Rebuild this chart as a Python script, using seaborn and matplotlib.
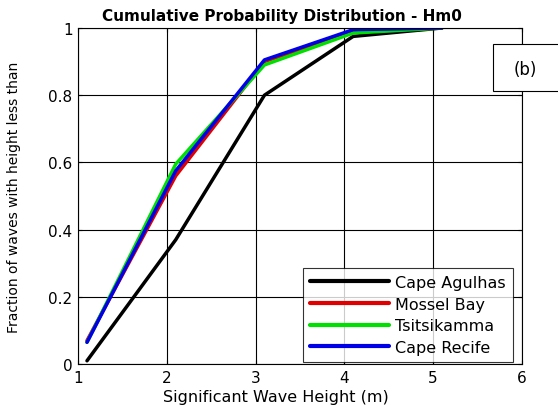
import matplotlib
matplotlib.use('Agg')
import matplotlib.pyplot as plt
from matplotlib.patches import Rectangle
import seaborn as sns
import pandas as pd

# wave height bins (m) and cumulative fractions per site
heights = [1.1, 2.1, 3.1, 4.1, 5.1]
cape_agulhas = [0.01, 0.37, 0.80, 0.975, 1.0]
mossel_bay = [0.07, 0.56, 0.90, 0.99, 1.0]
tsitsikamma = [0.065, 0.595, 0.89, 0.985, 1.0]
cape_recife = [0.065, 0.575, 0.905, 0.995, 1.0]

sites = ['Cape Agulhas', 'Mossel Bay', 'Tsitsikamma', 'Cape Recife']
colors = ['#000000', '#e00000', '#00e000', '#0000e6']

df = pd.concat([
    pd.DataFrame({'h': heights, 'p': vals, 'site': name})
    for name, vals in zip(sites, [cape_agulhas, mossel_bay, tsitsikamma, cape_recife])
])

sns.set_style('white')
plt.rcParams['font.family'] = ['DejaVu Sans']
plt.rcParams.update({'text.color': 'black', 'axes.labelcolor': 'black',
                     'xtick.color': 'black', 'ytick.color': 'black'})

fig = plt.figure(figsize=(5.58, 4.14), dpi=100)
ax = fig.add_axes([0.14, 0.118, 0.795, 0.812])

sns.lineplot(data=df, x='h', y='p', hue='site', hue_order=sites,
             palette=colors, linewidth=2.5, ax=ax, sort=False)

ax.set_xlim(1, 6)
ax.set_ylim(0, 1)
ax.set_xticks([1, 2, 3, 4, 5, 6])
ax.set_yticks([0, 0.2, 0.4, 0.6, 0.8, 1])
ax.set_yticklabels(['0', '0.2', '0.4', '0.6', '0.8', '1'])
ax.grid(True, color='black', linewidth=0.8)
ax.tick_params(direction='in', length=3, labelsize=11, width=0.8, pad=4,
               top=True, right=True, bottom=True, left=True)
for s in ax.spines.values():
    s.set_color('black')
    s.set_linewidth(0.8)

t = ax.set_title('Cumulative Probability Distribution - Hm0', fontsize=11, fontweight='bold', pad=5.8)
t.set_x(0.46)
ax.set_xlabel('Significant Wave Height (m)', fontsize=11.5)
ax.xaxis.set_label_coords(0.446, -0.074)
ax.set_ylabel('Fraction of waves with height less than', fontsize=10)
ax.yaxis.set_label_coords(-0.128, 0.5)

leg = ax.legend(loc='lower right', bbox_to_anchor=(0.98, 0.006), fontsize=11.5,
                frameon=True, fancybox=False, edgecolor='black', handlelength=4.9,
                borderaxespad=0, labelspacing=0.42, handletextpad=0.4, borderpad=0.45)
leg.get_frame().set_linewidth(0.8)
for line in leg.get_lines():
    line.set_linewidth(3)

# "(b)" panel tag, partly outside the figure edge as in the original
fig.patches.append(Rectangle((493 / 558, 1 - 92 / 414), 70 / 558, 47 / 414,
                             transform=fig.transFigure, facecolor='white',
                             edgecolor='black', linewidth=0.8, zorder=5))
fig.text(525 / 558, 1 - 70 / 414, '(b)', fontsize=12, ha='center', va='center', zorder=6)

fig.savefig('out.png', dpi=100)
